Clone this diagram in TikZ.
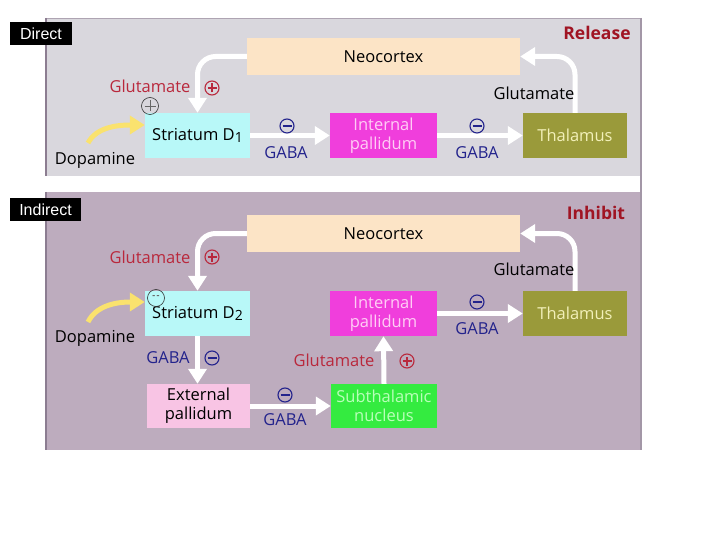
\documentclass[tikz,border=0pt]{standalone}
\usepackage{fontspec}
\setmainfont{Open Sans}
\newfontfamily\labfont{Liberation Sans}
\usetikzlibrary{arrows.meta}
\definecolor{toppanel}{RGB}{217,215,221}
\definecolor{botpanel}{RGB}{189,172,190}
\definecolor{panelborder}{RGB}{140,125,145}
\definecolor{neofill}{RGB}{252,228,198}
\definecolor{strfill}{RGB}{184,248,248}
\definecolor{ipfill}{RGB}{240,62,220}
\definecolor{iptext}{RGB}{255,205,245}
\definecolor{thfill}{RGB}{154,154,58}
\definecolor{thtext}{RGB}{242,240,185}
\definecolor{extfill}{RGB}{248,196,228}
\definecolor{stnfill}{RGB}{52,235,64}
\definecolor{stntext}{RGB}{185,255,185}
\definecolor{glured}{RGB}{185,40,60}
\definecolor{gabablue}{RGB}{35,35,140}
\definecolor{tagred}{RGB}{160,20,35}
\definecolor{dopyellow}{RGB}{250,226,110}
\tikzset{
  box/.style={draw=none, align=center, inner sep=0pt, font=\fontsize{16.5}{19}\selectfont},
  lab/.style={inner sep=0pt, font=\fontsize{16.5}{19}\selectfont},
  bigarrow/.style={draw=white, line width=5pt, -{Triangle[width=18pt,length=15pt]}},
  doparrow/.style={draw=dopyellow, line width=5pt, -{Triangle[width=18pt,length=15pt]}},
  signbase/.style={circle, draw=#1, line width=1.1pt, minimum size=14pt, inner sep=0pt},
  plussign/.style={signbase=#1, path picture={\draw[#1, line width=1.1pt]
     ([xshift=-4.5pt]path picture bounding box.center) -- ([xshift=4.5pt]path picture bounding box.center)
     ([yshift=-4.5pt]path picture bounding box.center) -- ([yshift=4.5pt]path picture bounding box.center);}},
  minussign/.style={signbase=#1, path picture={\draw[#1, line width=1.1pt]
     ([xshift=-4.5pt]path picture bounding box.center) -- ([xshift=4.5pt]path picture bounding box.center);}},
  tagbox/.style={fill=black, text=white, inner sep=0pt, font=\labfont\fontsize{16}{17}\selectfont},
  note/.style={circle, draw=black!80, line width=0.6pt, minimum size=17pt, inner sep=0pt}
}
\newcommand{\subnum}[1]{\raisebox{-2.5pt}{\fontsize{14}{14}\selectfont #1}}
\begin{document}
\begin{tikzpicture}[x=1pt,y=-1pt]
\useasboundingbox (0,0) rectangle (720,540);
\fill[white] (0,0) rectangle (720,540);
% panels
\fill[toppanel] (45,18) rectangle (641,176);
\fill[botpanel] (45,192) rectangle (641,450);
\draw[panelborder!70, line width=1pt] (45,18.5) -- (641,18.5);
\draw[panelborder, line width=2pt] (46,18) -- (46,176);
\draw[panelborder, line width=2pt] (46,192) -- (46,450);
\draw[panelborder!80, line width=2pt] (641,18) -- (641,450);
% tags
\node[tagbox, minimum width=62pt, minimum height=23pt] (tagD) at (41,33.5) {Direct};
\node[tagbox, minimum width=71pt, minimum height=23pt] (tagI) at (45.5,209.5) {Indirect};
\node[lab, font=\bfseries\fontsize{17.5}{19}\selectfont, text=tagred] (rel) at (597,33) {Release};
\node[lab, font=\bfseries\fontsize{17.5}{19}\selectfont, text=tagred] (inh) at (596,213) {Inhibit};

% ---------- Direct ----------
\node[box, fill=neofill, minimum width=273pt, minimum height=37pt] (neo1) at (383.5,56.5) {Neocortex};
\node[box, fill=strfill, minimum width=105pt, minimum height=45pt] (str1) at (197.5,135.5) {Striatum D\subnum{1}};
\node[box, fill=ipfill, text=iptext, minimum width=107pt, minimum height=45pt] (ip1) at (383.5,135.5) {Internal\\pallidum};
\node[box, fill=thfill, text=thtext, minimum width=104pt, minimum height=45pt] (th1) at (575,135.5) {Thalamus};

\draw[bigarrow, rounded corners=18pt] (neo1.west) -| (str1.north);
\draw[bigarrow] (str1.east) -- (ip1.west);
\draw[bigarrow] (ip1.east) -- (th1.west);
\draw[bigarrow, rounded corners=18pt] (th1.north) |- (neo1.east);
\coordinate (dop1s) at (88,143);
\draw[doparrow] (dop1s) .. controls (96,128) and (115,125) .. (str1.west |- 0,125);

\node[lab, text=glured] (glu1) at (150,86) {Glutamate};
\node[plussign=glured] (p1) at (212,88) {};
\node[note] (n1) at (150,106) {};
\draw[black!60, line width=0.6pt] (144.5,106) -- (155.5,106) (150,100.5) -- (150,111.5);
\node[lab] (dopl1) at (95,160) {Dopamine};
\node[minussign=gabablue] (m1) at (287,126) {};
\node[lab, text=gabablue] (g1) at (286,153) {GABA};
\node[minussign=gabablue] (m2) at (477,126) {};
\node[lab, text=gabablue] (g2) at (477,153) {GABA};
\node[lab] (glt1) at (534,93) {Glutamate};

% ---------- Indirect ----------
\node[box, fill=neofill, minimum width=273pt, minimum height=37pt] (neo2) at (383.5,233.5) {Neocortex};
\node[box, fill=strfill, minimum width=105pt, minimum height=45pt] (str2) at (197.5,313.5) {Striatum D\subnum{2}};
\node[box, fill=ipfill, text=iptext, minimum width=107pt, minimum height=45pt] (ip2) at (383.5,313.5) {Internal\\pallidum};
\node[box, fill=thfill, text=thtext, minimum width=104pt, minimum height=45pt] (th2) at (575,313.5) {Thalamus};
\node[box, fill=extfill, minimum width=103pt, minimum height=44pt] (ext) at (198.5,406) {External\\pallidum};
\node[box, fill=stnfill, text=stntext, minimum width=106pt, minimum height=44pt] (stn) at (384,406) {Subthalamic\\nucleus};

\draw[bigarrow, rounded corners=18pt] (neo2.west) -| (str2.north);
\draw[bigarrow] (str2.south) -- (str2.south |- ext.north);
\draw[bigarrow] (ext.east) -- (stn.west);
\draw[bigarrow] (stn.north) -- (ip2.south);
\draw[bigarrow] (ip2.east) -- (th2.west);
\draw[bigarrow, rounded corners=18pt] (th2.north) |- (neo2.east);
\coordinate (dop2s) at (88,322);
\draw[doparrow] (dop2s) .. controls (96,306) and (115,302) .. (str2.west |- 0,302);

\node[lab, text=glured] (glu2) at (150,257) {Glutamate};
\node[plussign=glured] (p2) at (212,257) {};
\node[note] (n2) at (156,298) {};
\node[inner sep=0pt, text=black!60, font=\fontsize{9}{9}\selectfont\bfseries] (n2t) at (156,297) {-\,-};
\node[lab] (dopl2) at (95,338) {Dopamine};
\node[lab, text=gabablue] (g3) at (168,358) {GABA};
\node[minussign=gabablue] (m3) at (212,358) {};
\node[minussign=gabablue] (m4) at (285,395) {};
\node[lab, text=gabablue] (g4) at (285,420) {GABA};
\node[lab, text=glured] (glu3) at (334,360) {Glutamate};
\node[plussign=glured] (p3) at (407,361) {};
\node[minussign=gabablue] (m5) at (477,302) {};
\node[lab, text=gabablue] (g5) at (477,329) {GABA};
\node[lab] (glt2) at (534,269) {Glutamate};
\end{tikzpicture}
\end{document}
